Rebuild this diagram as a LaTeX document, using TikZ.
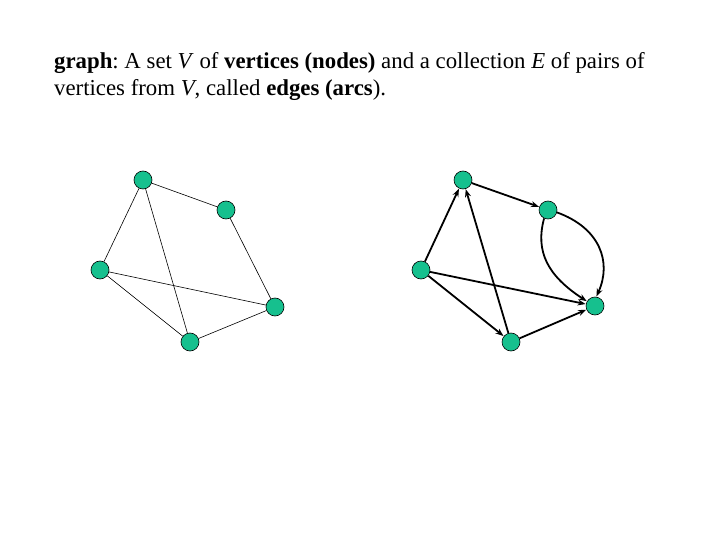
\documentclass[tikz,border=0pt]{standalone}
\usepackage{fontspec}
\setmainfont{Liberation Serif}
\usetikzlibrary{arrows.meta}
\definecolor{vtx}{RGB}{22,192,142}
\tikzset{
  vert/.style={circle,draw=black,line width=0.6pt,fill=vtx,minimum size=18pt,inner sep=0pt},
  uedge/.style={draw=black,line width=0.6pt},
  dedge/.style={draw=black,line width=1.8pt,-{Stealth[length=8pt,width=6pt]},shorten >=0.3pt}
}
\begin{document}
\frenchspacing
\begin{tikzpicture}[x=1pt,y=-1pt]
\useasboundingbox (0,0) rectangle (720,540);
\node[anchor=base west,font=\fontsize{22.8}{27}\selectfont,align=left,inner sep=0pt] (txt) at (54,96)
 {\textbf{graph}: A set \textit{V} of \textbf{vertices (nodes)} and a collection \textit{E} of pairs of\\ vertices from \textit{V}, called \textbf{edges (arcs}).};
% left graph
\node[vert] (a1) at (143,180) {};
\node[vert] (b1) at (226,210) {};
\node[vert] (c1) at (100,270) {};
\node[vert] (d1) at (275,307) {};
\node[vert] (e1) at (190,342) {};
\draw[uedge] (a1) -- (b1);
\draw[uedge] (a1) -- (c1);
\draw[uedge] (a1) -- (e1);
\draw[uedge] (b1) -- (d1);
\draw[uedge] (c1) -- (d1);
\draw[uedge] (c1) -- (e1);
\draw[uedge] (e1) -- (d1);
% right graph
\node[vert] (a2) at (463,180) {};
\node[vert] (b2) at (548,210) {};
\node[vert] (c2) at (421,270) {};
\node[vert] (d2) at (595,306) {};
\node[vert] (e2) at (511,342) {};
\draw[dedge] (c2) -- (a2);
\draw[dedge] (e2) -- (a2);
\draw[dedge] (a2) -- (b2);
\draw[dedge] (c2) -- (d2);
\draw[dedge] (c2) -- (e2);
\draw[dedge] (e2) -- (d2);
\draw[dedge] (b2.-115) .. controls (535,252) and (548,276) .. (d2.150);
\draw[dedge] (b2.-15) .. controls (600,228) and (612,262) .. (d2.82);
\end{tikzpicture}
\end{document}
